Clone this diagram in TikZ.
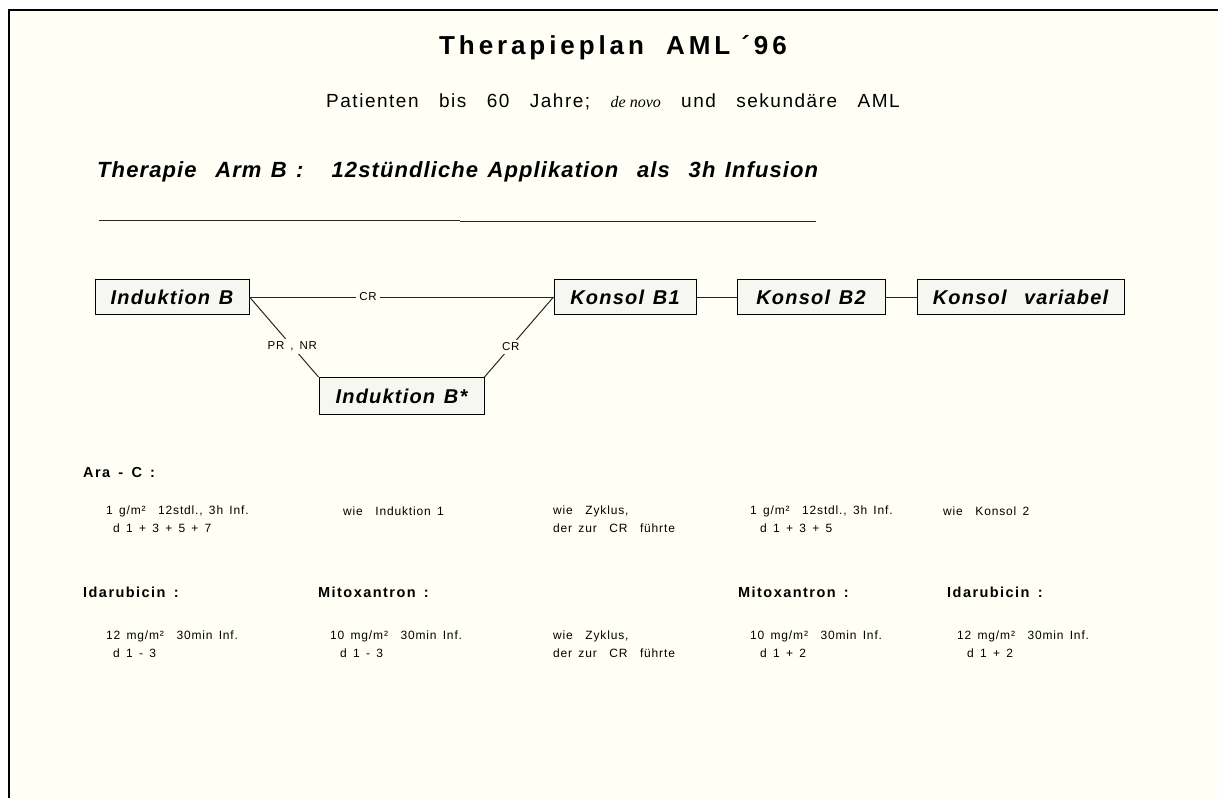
\documentclass[tikz,border=0pt]{standalone}
\usepackage{fontspec}
\setmainfont{Liberation Sans}
\newfontfamily\titlefont{Liberation Sans}[LetterSpace=15]
\newfontfamily\subfont{Liberation Sans}[LetterSpace=8,WordSpace=3]
\newfontfamily\armfont{Liberation Sans}[LetterSpace=5,WordSpace=1.3]
\newfontfamily\boxfont{Liberation Sans}[LetterSpace=6,WordSpace=1.3]
\newfontfamily\headfont{Liberation Sans}[LetterSpace=10,WordSpace=1.5]
\newfontfamily\smallfont{Liberation Sans}[LetterSpace=7,WordSpace=1.5]
\newfontfamily\serifit{Liberation Serif}
\definecolor{bg}{HTML}{FFFFF6}
\definecolor{boxfill}{HTML}{F7F7F2}
\tikzset{
  box/.style={draw=black, line width=1pt, fill=boxfill, inner sep=0pt,
    font=\fontsize{20}{22}\selectfont\boxfont\bfseries\itshape},
  conn/.style={line width=1pt, draw=black!85},
  lbl/.style={fill=bg, inner sep=3pt, font=\fontsize{11.5}{12}\selectfont\smallfont},
  txt/.style={anchor=west, inner sep=0pt, font=\fontsize{12}{13}\selectfont\smallfont},
  head/.style={anchor=west, inner sep=0pt, font=\fontsize{14.5}{16}\selectfont\headfont\bfseries},
}
\begin{document}
\begin{tikzpicture}[x=1pt,y=-1pt]
\useasboundingbox (0,0) rectangle (1218,798);
\fill[white] (0,0) rectangle (1218,798);
\fill[bg] (9,10) rectangle (1218,798);
\draw[line width=2pt] (9,798) -- (9,10) -- (1218,10);

% titles
\node[inner sep=0pt, font=\fontsize{26}{28}\selectfont\titlefont\bfseries] (title) at (613,48) {Therapieplan\ \ AML \char"00B4 96};
\node[inner sep=0pt, font=\fontsize{19}{21}\selectfont\subfont] (sub) at (613,102) {Patienten bis 60 Jahre; {\serifit\itshape\fontsize{16}{18}\selectfont de novo} und sekundäre AML};
\node[anchor=west, inner sep=0pt, font=\fontsize{22}{24}\selectfont\armfont\bfseries\itshape] (arm) at (97,172) {Therapie\ \ Arm B :\ \ \ 12stündliche Applikation\ \ als\ \ 3h Infusion};
\draw[conn] (99,220) -- (460,220);
\draw[conn] (460,221) -- (816,221);

% boxes
\node[box, minimum width=154pt, minimum height=35pt] (indB) at (172,297) {Induktion B};
\node[box, minimum width=142pt, minimum height=35pt] (kB1) at (625,297) {Konsol B1};
\node[box, minimum width=148pt, minimum height=35pt] (kB2) at (811,297) {Konsol B2};
\node[box, minimum width=207pt, minimum height=35pt] (kV) at (1020.5,297) {Konsol\ \ variabel};
\node[box, minimum width=165pt, minimum height=37pt] (indBs) at (401.5,396) {Induktion B*};

% connectors
\draw[conn] (indB.east) -- node[lbl, pos=0.39] {CR} (kB1.west);
\draw[conn] (indB.east) -- node[lbl, pos=0.62] {PR , NR} (indBs.north west);
\draw[conn] (indBs.north east) -- node[lbl, pos=0.38] {CR} (kB1.west);
\draw[conn] (kB1) -- (kB2);
\draw[conn] (kB2) -- (kV);

% Ara-C
\node[head] (ara) at (83,473) {Ara - C :};
\node[txt] (a1) at (106,511) {1 g/m\char"00B2\ \ 12stdl., 3h Inf.};
\node[txt] (a1b) at (113,528) {d 1 + 3 + 5 + 7};
\node[txt] (a2) at (343,511) {wie\ \ Induktion 1};
\node[txt] (a3) at (553,511) {wie\ \ Zyklus,};
\node[txt] (a3b) at (553,528) {der zur\ \ CR\ \ führte};
\node[txt] (a4) at (750,511) {1 g/m\char"00B2\ \ 12stdl., 3h Inf.};
\node[txt] (a4b) at (760,528) {d 1 + 3 + 5};
\node[txt] (a5) at (943,511) {wie\ \ Konsol 2};

% anthracyclines
\node[head] (ida1) at (83,592) {Idarubicin :};
\node[head] (mit1) at (318,592) {Mitoxantron :};
\node[head] (mit2) at (738,592) {Mitoxantron :};
\node[head] (ida2) at (947,592) {Idarubicin :};
\node[txt] (b1) at (106,636) {12 mg/m\char"00B2\ \ 30min Inf.};
\node[txt] (b1b) at (113,653) {d 1 - 3};
\node[txt] (b2) at (330,636) {10 mg/m\char"00B2\ \ 30min Inf.};
\node[txt] (b2b) at (340,653) {d 1 - 3};
\node[txt] (b3) at (553,636) {wie\ \ Zyklus,};
\node[txt] (b3b) at (553,653) {der zur\ \ CR\ \ führte};
\node[txt] (b4) at (750,636) {10 mg/m\char"00B2\ \ 30min Inf.};
\node[txt] (b4b) at (760,653) {d 1 + 2};
\node[txt] (b5) at (957,636) {12 mg/m\char"00B2\ \ 30min Inf.};
\node[txt] (b5b) at (967,653) {d 1 + 2};
\end{tikzpicture}
\end{document}
